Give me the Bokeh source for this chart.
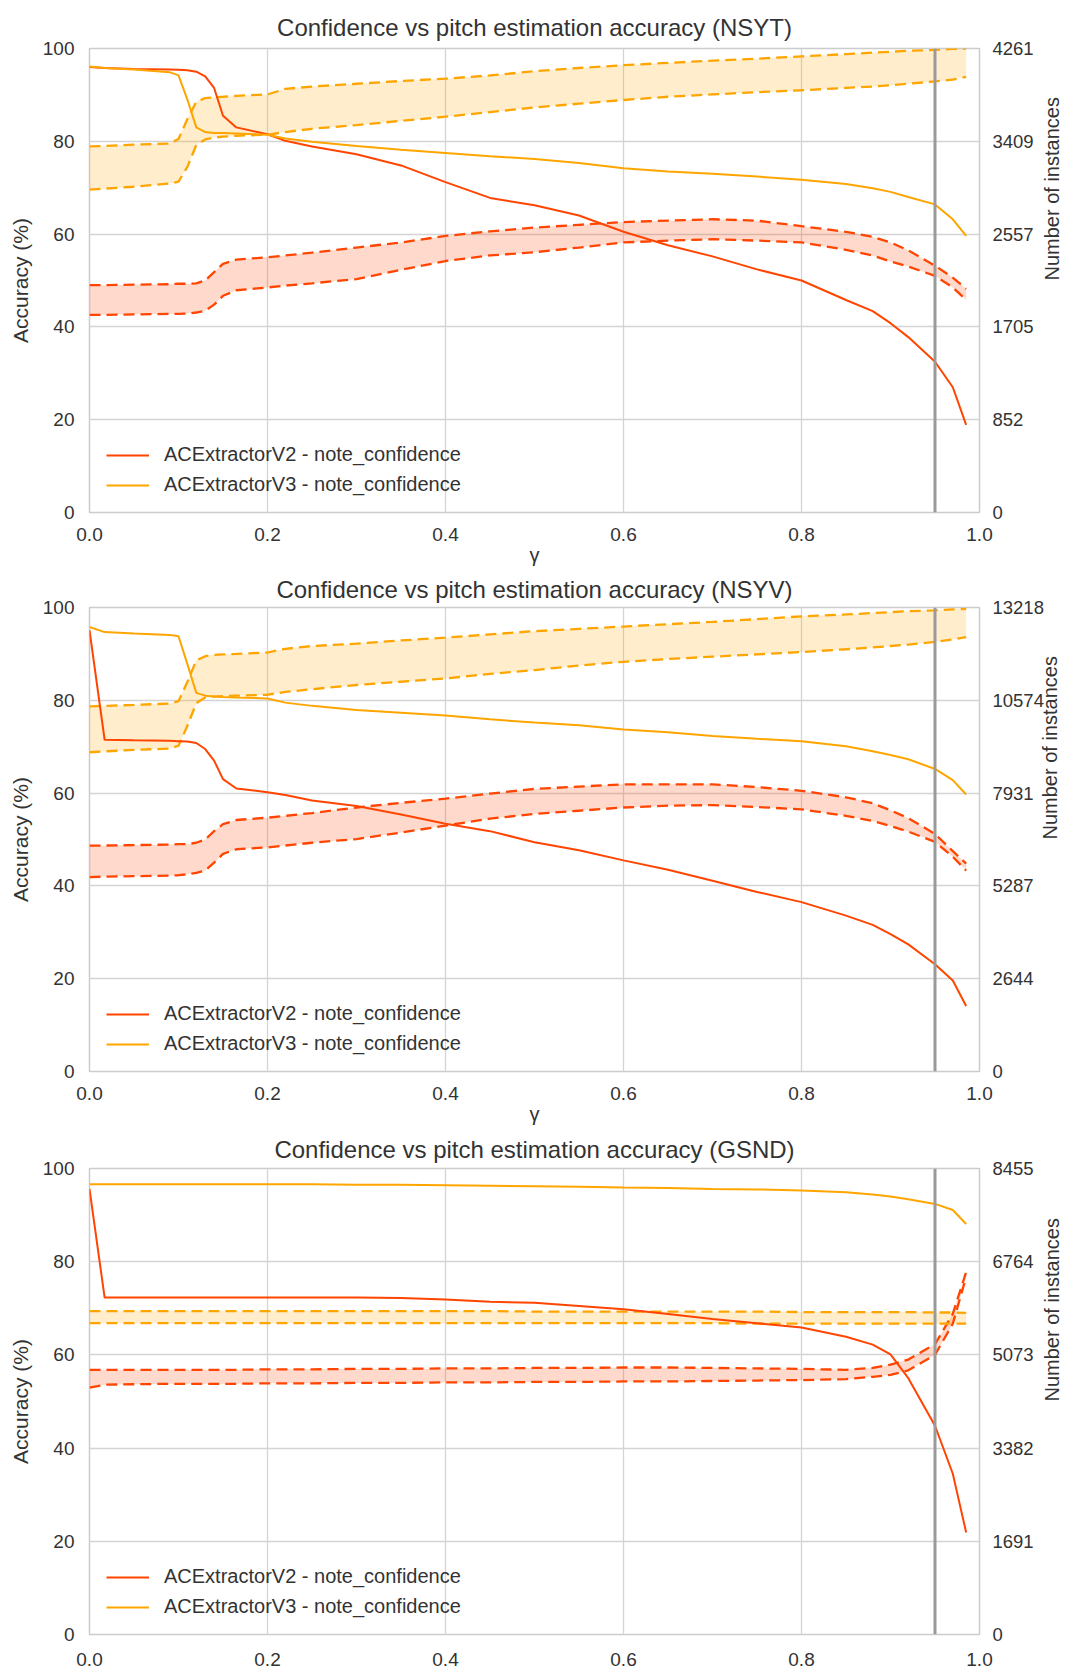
import math
from bokeh.plotting import figure
from bokeh.layouts import column
from bokeh.models import (Range1d, LinearAxis, FixedTicker, Span, Legend, LegendItem,
                          NumeralTickFormatter)
from bokeh.embed import file_html
from bokeh.resources import INLINE

FONT = "Liberation Sans"
TEXT = "#333333"
RED = "#FF4500"
ORANGE = "#FFA500"
THRESHOLD = 0.95

GAMMA = [0.0, 0.017, 0.05, 0.09, 0.10, 0.11, 0.12, 0.13, 0.14, 0.15, 0.165, 0.20, 0.22, 0.25,
         0.30, 0.35, 0.40, 0.45, 0.50, 0.55, 0.60, 0.65, 0.70, 0.75, 0.80, 0.85, 0.88, 0.90,
         0.92, 0.95, 0.97, 0.985]
X_TICKS = [0.0, 0.2, 0.4, 0.6, 0.8, 1.0]
Y_TICKS = [0, 20, 40, 60, 80, 100]

# ---- NSYT ----
NSYT_V2 = [96.0, 95.8, 95.6, 95.5, 95.4, 95.3, 95.0, 94.0, 91.5, 85.5, 83.0, 81.5, 80.1, 78.9,
           77.2, 74.8, 71.2, 67.8, 66.2, 64.0, 60.5, 57.6, 55.2, 52.4, 50.0, 45.8, 43.4, 40.8,
           37.8, 32.5, 27.0, 18.9]
NSYT_V3 = [96.1, 95.8, 95.5, 94.9, 94.2, 89.0, 83.0, 82.0, 81.8, 81.8, 81.7, 81.4, 80.6, 79.9,
           79.0, 78.2, 77.5, 76.8, 76.2, 75.3, 74.2, 73.5, 73.0, 72.4, 71.7, 70.8, 69.9, 69.1,
           68.0, 66.4, 63.2, 59.6]
NSYT_V2_HI = [49.0, 49.0, 49.1, 49.2, 49.3, 49.3, 49.4, 50.0, 51.8, 53.6, 54.5, 55.0, 55.4, 56.0,
              57.1, 58.2, 59.6, 60.6, 61.4, 62.0, 62.6, 62.9, 63.2, 62.9, 61.7, 60.5, 59.4, 58.2,
              56.5, 53.2, 50.6, 48.2]
NSYT_V2_LO = [42.6, 42.6, 42.7, 42.8, 42.8, 42.9, 43.1, 43.5, 44.8, 46.7, 47.9, 48.5, 48.9, 49.4,
              50.3, 52.3, 54.2, 55.4, 56.1, 57.1, 58.2, 58.6, 58.9, 58.6, 58.2, 56.6, 55.4, 54.1,
              53.0, 51.0, 48.5, 45.8]
NSYT_V3_HI = [78.9, 79.0, 79.3, 79.5, 80.5, 84.8, 88.5, 89.3, 89.5, 89.6, 89.8, 90.1, 91.3, 91.8,
              92.4, 93.0, 93.5, 94.2, 95.1, 95.8, 96.4, 96.9, 97.4, 97.8, 98.3, 98.8, 99.1, 99.3,
              99.5, 99.7, 99.9, 100.0]
NSYT_V3_LO = [69.6, 69.8, 70.2, 70.9, 71.3, 74.5, 79.2, 80.4, 80.8, 81.0, 81.2, 81.4, 82.0, 82.7,
              83.5, 84.4, 85.3, 86.3, 87.3, 88.1, 88.9, 89.6, 90.1, 90.6, 91.0, 91.5, 91.8, 92.1,
              92.4, 92.9, 93.3, 93.9]
NSYT_COUNT_TICKS = [0, 852, 1705, 2557, 3409, 4261]

# ---- NSYV ----
NSYV_V2 = [95.1, 71.5, 71.4, 71.3, 71.2, 71.1, 70.8, 69.5, 67.0, 63.0, 61.0, 60.2, 59.6, 58.4,
           57.2, 55.4, 53.4, 51.8, 49.4, 47.7, 45.5, 43.5, 41.1, 38.7, 36.5, 33.6, 31.6, 29.6,
           27.4, 23.1, 19.6, 14.1]
NSYV_V3 = [95.8, 94.7, 94.4, 94.1, 93.8, 87.8, 81.6, 81.0, 80.8, 80.7, 80.6, 80.4, 79.5, 78.8,
           77.9, 77.3, 76.7, 75.9, 75.2, 74.6, 73.7, 73.1, 72.3, 71.7, 71.2, 70.1, 69.0, 68.2,
           67.3, 65.2, 62.8, 59.7]
NSYV_V2_HI = [48.7, 48.7, 48.8, 48.9, 49.0, 49.0, 49.3, 50.0, 51.8, 53.3, 54.2, 54.7, 55.1, 55.7,
              56.9, 57.9, 58.8, 59.9, 60.9, 61.4, 61.9, 61.9, 61.9, 61.3, 60.5, 59.1, 57.8, 56.3,
              54.6, 51.2, 47.5, 44.8]
NSYV_V2_LO = [41.9, 42.0, 42.1, 42.2, 42.3, 42.5, 42.8, 43.3, 45.0, 46.9, 47.9, 48.3, 48.7, 49.3,
              50.1, 51.5, 53.0, 54.5, 55.5, 56.2, 56.9, 57.3, 57.4, 57.0, 56.5, 55.1, 54.0, 52.9,
              51.7, 49.5, 46.3, 43.3]
NSYV_V3_HI = [78.7, 78.8, 79.0, 79.3, 79.8, 84.0, 88.6, 89.5, 89.8, 89.9, 90.0, 90.3, 91.1, 91.7,
              92.2, 92.9, 93.5, 94.2, 94.9, 95.4, 95.9, 96.4, 96.9, 97.5, 98.1, 98.5, 98.8, 99.0,
              99.2, 99.4, 99.6, 99.7]
NSYV_V3_LO = [68.8, 69.0, 69.3, 69.6, 70.2, 74.5, 79.4, 80.6, 80.8, 80.9, 81.0, 81.2, 81.8, 82.4,
              83.3, 84.0, 84.7, 85.7, 86.5, 87.5, 88.3, 88.9, 89.4, 89.9, 90.4, 91.0, 91.4, 91.7,
              92.0, 92.6, 93.1, 93.6]
NSYV_COUNT_TICKS = [0, 2644, 5287, 7931, 10574, 13218]

# ---- GSND ----
GSND_V2 = [95.6, 72.3, 72.3, 72.3, 72.3, 72.3, 72.3, 72.3, 72.3, 72.3, 72.3, 72.3, 72.3, 72.3,
           72.3, 72.2, 71.9, 71.4, 71.2, 70.5, 69.8, 68.8, 67.7, 66.8, 65.9, 63.9, 62.2, 60.1,
           55.0, 44.8, 34.5, 21.9]
GSND_V3 = [96.6, 96.6, 96.6, 96.6, 96.6, 96.6, 96.6, 96.6, 96.6, 96.6, 96.6, 96.6, 96.6, 96.6,
           96.5, 96.5, 96.4, 96.3, 96.2, 96.1, 95.9, 95.8, 95.6, 95.5, 95.3, 94.9, 94.4, 94.0,
           93.4, 92.4, 91.1, 88.1]
GSND_V2_HI = [56.8, 56.8, 56.8, 56.8, 56.8, 56.8, 56.8, 56.8, 56.8, 56.8, 56.8, 56.9, 56.9, 56.9,
              57.0, 57.0, 57.1, 57.1, 57.2, 57.2, 57.3, 57.3, 57.2, 57.1, 57.0, 56.8, 57.2, 57.9,
              59.0, 62.3, 68.8, 77.8]
GSND_V2_LO = [53.0, 53.6, 53.7, 53.8, 53.8, 53.8, 53.8, 53.8, 53.8, 53.8, 53.8, 53.9, 53.9, 53.9,
              54.0, 54.0, 54.1, 54.1, 54.2, 54.2, 54.3, 54.3, 54.4, 54.5, 54.6, 54.8, 55.3, 55.7,
              56.7, 60.0, 66.7, 76.7]
GSND_V3_HI = [69.4, 69.4, 69.4, 69.4, 69.4, 69.4, 69.4, 69.4, 69.4, 69.4, 69.4, 69.4, 69.4, 69.4,
              69.4, 69.4, 69.4, 69.4, 69.3, 69.3, 69.3, 69.3, 69.3, 69.3, 69.2, 69.2, 69.2, 69.2,
              69.2, 69.1, 69.1, 69.0]
GSND_V3_LO = [66.8, 66.8, 66.8, 66.8, 66.8, 66.8, 66.8, 66.8, 66.8, 66.8, 66.8, 66.8, 66.8, 66.8,
              66.8, 66.8, 66.8, 66.8, 66.8, 66.8, 66.8, 66.8, 66.8, 66.7, 66.7, 66.7, 66.7, 66.7,
              66.7, 66.7, 66.7, 66.7]
GSND_COUNT_TICKS = [0, 1691, 3382, 5073, 6764, 8455]

LABEL_V2 = "ACExtractorV2 - note_confidence"
LABEL_V3 = "ACExtractorV3 - note_confidence"


def style_axis(ax, size="19px"):
    ax.axis_line_color = None
    ax.major_tick_line_color = None
    ax.minor_tick_line_color = None
    ax.major_label_text_font = FONT
    ax.major_label_text_font_size = size
    ax.major_label_text_color = TEXT
    ax.axis_label_text_font = FONT
    ax.axis_label_text_font_style = "normal"
    ax.axis_label_text_color = TEXT
    ax.axis_label_text_font_size = "21px"


def make_panel(name, v2, v3, v2_hi, v2_lo, v3_hi, v3_lo, count_ticks,
               height, top, bottom, title_standoff, xlabel_standoff, show_xlabel,
               right_label_standoff):
    p = figure(width=1076, height=height, x_range=Range1d(0, 1), y_range=Range1d(0, 100),
               output_backend="svg", toolbar_location=None,
               min_border_left=89, min_border_right=93,
               min_border_top=top, min_border_bottom=bottom,
               title="Confidence vs pitch estimation accuracy (%s)" % name)
    p.title.text_font = FONT
    p.title.text_font_size = "24px"
    p.title.text_font_style = "normal"
    p.title.text_color = TEXT
    p.title.align = "center"
    p.title.standoff = title_standoff
    p.background_fill_color = "white"
    p.border_fill_color = "white"
    p.outline_line_color = "#cccccc"
    p.outline_line_width = 1.5
    p.xgrid.grid_line_color = "#d4d4d4"
    p.ygrid.grid_line_color = "#d4d4d4"
    p.xgrid.grid_line_width = 1.3
    p.ygrid.grid_line_width = 1.3

    p.xaxis.ticker = FixedTicker(ticks=X_TICKS)
    p.xaxis.formatter = NumeralTickFormatter(format="0.0")
    p.yaxis.ticker = FixedTicker(ticks=Y_TICKS)
    xa = p.xaxis[0]
    ya = p.yaxis[0]
    style_axis(xa)
    style_axis(ya)
    xa.major_label_standoff = xlabel_standoff
    ya.major_label_standoff = 9
    ya.axis_label = "Accuracy (%)"
    ya.axis_label_standoff = 8
    if show_xlabel:
        xa.axis_label = "γ"
        xa.axis_label_standoff = 0
        xa.axis_label_text_font_size = "20px"

    p.extra_y_ranges = {"count": Range1d(0, count_ticks[-1])}
    ra = LinearAxis(y_range_name="count", ticker=FixedTicker(ticks=count_ticks),
                    axis_label="Number of instances")
    style_axis(ra, size="18.5px")
    ra.axis_label_text_font_size = "20px"
    ra.major_label_standoff = 7
    ra.axis_label_standoff = right_label_standoff
    if "axis_label_orientation" in ra.properties():
        ra.axis_label_orientation = math.pi / 2
    p.add_layout(ra, "right")

    # bands
    p.varea(x=GAMMA, y1=v2_lo, y2=v2_hi, fill_color=RED, fill_alpha=0.2)
    p.varea(x=GAMMA, y1=v3_lo, y2=v3_hi, fill_color=ORANGE, fill_alpha=0.2)
    for arr, col in ((v2_hi, RED), (v2_lo, RED), (v3_hi, ORANGE), (v3_lo, ORANGE)):
        p.line(GAMMA, arr, line_color=col, line_width=2.3, line_dash="11 6")

    r2 = p.line(GAMMA, v2, line_color=RED, line_width=2)
    r3 = p.line(GAMMA, v3, line_color=ORANGE, line_width=2)

    p.add_layout(Span(location=THRESHOLD, dimension="height", line_color="#9a9a9a",
                      line_width=3))

    legend = Legend(items=[LegendItem(label=LABEL_V2, renderers=[r2]),
                           LegendItem(label=LABEL_V3, renderers=[r3])],
                    location=(17, 16))
    legend.border_line_alpha = 0
    legend.background_fill_alpha = 0
    legend.padding = 0
    legend.margin = 0
    legend.spacing = 7
    legend.glyph_width = 43
    legend.glyph_height = 22
    legend.label_height = 22
    legend.label_standoff = 15
    legend.label_text_font = FONT
    legend.label_text_font_size = "20px"
    legend.label_text_color = TEXT
    p.add_layout(legend)
    return p


p1 = make_panel("NSYT", NSYT_V2, NSYT_V3, NSYT_V2_HI, NSYT_V2_LO, NSYT_V3_HI, NSYT_V3_LO,
                NSYT_COUNT_TICKS, height=568, top=48, bottom=53, title_standoff=15,
                xlabel_standoff=9, show_xlabel=True, right_label_standoff=15)
p2 = make_panel("NSYV", NSYV_V2, NSYV_V3, NSYV_V2_HI, NSYV_V2_LO, NSYV_V3_HI, NSYV_V3_LO,
                NSYV_COUNT_TICKS, height=559, top=39, bottom=53, title_standoff=10,
                xlabel_standoff=9, show_xlabel=True, right_label_standoff=3)
p3 = make_panel("GSND", GSND_V2, GSND_V3, GSND_V2_HI, GSND_V2_LO, GSND_V3_HI, GSND_V3_LO,
                GSND_COUNT_TICKS, height=542, top=41, bottom=35, title_standoff=12,
                xlabel_standoff=12, show_xlabel=False, right_label_standoff=15)

layout = column(p1, p2, p3, spacing=0)
open("out.html", "w").write(file_html(layout, INLINE))
